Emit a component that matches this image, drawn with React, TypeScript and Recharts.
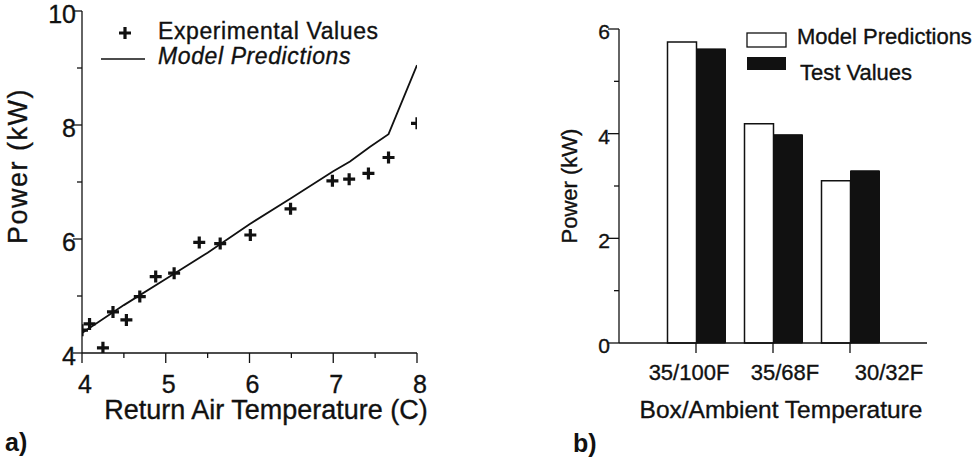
import React from 'react';
import { ComposedChart, Line, Scatter, XAxis, YAxis, BarChart, Bar } from 'recharts';

// panel a) experimental points
const expTemp = [4.0, 4.09, 4.25, 4.37, 4.53, 4.69, 4.88, 5.1, 5.4, 5.65, 6.01, 6.49, 6.99, 7.19, 7.42, 7.66, 8.0];
const expPower = [4.4, 4.51, 4.09, 4.72, 4.58, 4.99, 5.34, 5.4, 5.94, 5.92, 6.07, 6.53, 7.02, 7.05, 7.15, 7.43, 8.03];

// panel a) model line
const modelTemp = [4.0, 4.5, 5.0, 5.5, 6.0, 6.5, 7.0, 7.2, 7.44, 7.66, 8.0];
const modelPower = [4.35, 4.84, 5.3, 5.76, 6.26, 6.72, 7.19, 7.36, 7.62, 7.84, 9.05];

const tempTicks = [4, 4.5, 5, 5.5, 6, 6.5, 7, 7.5, 8];
const powerTicksA = [4, 5, 6, 7, 8, 9, 10];

// panel b)
const conditions = ['35/100F', '35/68F', '30/32F'];
const modelBars = [5.75, 4.19, 3.1];
const testBars = [5.62, 3.98, 3.29];
const powerTicksB = [0, 1, 2, 3, 4, 5, 6];

const expData = expTemp.map((x, i) => ({ x, y: expPower[i] }));
const modelData = modelTemp.map((x, i) => ({ x, y: modelPower[i] }));
const barData = conditions.map((name, i) => ({ name, model: modelBars[i], test: testBars[i] }));

const INK = '#111';
const FONT = '"Liberation Sans", Arial, Helvetica, sans-serif';
// scanned print looks a touch heavier than plain text
const heavy = { stroke: INK, strokeWidth: 0.35 };

const PlusMark = ({ cx, cy }: any) => (
  <path d={`M${cx - 6},${cy}H${cx + 6}M${cx},${cy - 6}V${cy + 6}`} stroke={INK} strokeWidth={3.2} fill="none" />
);

const LeftXTick = ({ x, y, payload }: any) => {
  const major = Number.isInteger(payload.value);
  return (
    <g>
      <line x1={x} y1={y} x2={x} y2={y + (major ? 10 : 5)} stroke={INK} strokeWidth={1.3} />
      {major && (
        <text x={x + 3} y={y + 40} textAnchor="middle" fontSize={25} fontFamily={FONT} fill={INK} {...heavy}>
          {payload.value}
        </text>
      )}
    </g>
  );
};

const LeftYTick = ({ x, y, payload }: any) => {
  const major = payload.value % 2 === 0;
  return (
    <g>
      <line x1={x - (major ? 9 : 5)} y1={y} x2={x} y2={y} stroke={INK} strokeWidth={1.3} />
      {major && (
        <text x={x - 6} y={y + 12} textAnchor="end" fontSize={25} fontFamily={FONT} fill={INK} {...heavy}>
          {payload.value}
        </text>
      )}
    </g>
  );
};

const RightYTick = ({ x, y, payload }: any) => {
  const major = payload.value % 2 === 0;
  return (
    <g>
      <line x1={x - (major ? 11 : 5)} y1={y} x2={x} y2={y} stroke={INK} strokeWidth={1.3} />
      {major && (
        <text x={x - 9} y={y + 10} textAnchor="end" fontSize={21} fontFamily={FONT} fill={INK} {...heavy}>
          {payload.value}
        </text>
      )}
    </g>
  );
};

const labelShift = [-7, 12, 39];

const RightXTick = ({ x, y, payload, index }: any) => (
  <g>
    <line x1={x} y1={y} x2={x} y2={y + 10} stroke={INK} strokeWidth={1.3} />
    <text x={x + (labelShift[index] || 0)} y={y + 37} textAnchor="middle" fontSize={22} fontFamily={FONT} fill={INK} {...heavy}>
      {payload.value}
    </text>
  </g>
);

export default function App() {
  return (
    <div style={{ position: 'absolute', left: 0, top: 0, width: 980, height: 459, background: '#fff', fontFamily: FONT }}>
      <div style={{ position: 'absolute', left: 0, top: 0 }}>
        <ComposedChart width={490} height={459} margin={{ top: 11, right: 73, bottom: 66, left: 22 }}>
          <XAxis
            type="number"
            dataKey="x"
            domain={[4, 8]}
            ticks={tempTicks}
            interval={0}
            height={40}
            tickSize={0}
            tickMargin={0}
            tickLine={false}
            axisLine={{ stroke: INK, strokeWidth: 1.3 }}
            tick={<LeftXTick />}
            allowDataOverflow
          />
          <YAxis
            type="number"
            dataKey="y"
            domain={[4, 10]}
            ticks={powerTicksA}
            interval={0}
            width={60}
            tickSize={0}
            tickMargin={0}
            tickLine={false}
            axisLine={{ stroke: INK, strokeWidth: 1.3 }}
            tick={<LeftYTick />}
            allowDataOverflow
          />
          <Line
            data={modelData}
            dataKey="y"
            type="linear"
            stroke={INK}
            strokeWidth={1.8}
            dot={false}
            isAnimationActive={false}
          />
          <Scatter data={expData} dataKey="y" shape={<PlusMark />} isAnimationActive={false} />
        </ComposedChart>
      </div>

      <div style={{ position: 'absolute', left: 490, top: 0 }}>
        <BarChart
          width={490}
          height={459}
          data={barData}
          margin={{ top: 29, right: 53, bottom: 76, left: 69 }}
          barGap={0}
          barSize={29}
        >
          <XAxis
            dataKey="name"
            height={40}
            padding={{ left: 38.5, right: 38.5 }}
            tickSize={0}
            tickMargin={0}
            tickLine={false}
            axisLine={{ stroke: INK, strokeWidth: 1.3 }}
            tick={<RightXTick />}
            interval={0}
          />
          <YAxis
            type="number"
            domain={[0, 6]}
            ticks={powerTicksB}
            interval={0}
            width={60}
            tickSize={0}
            tickMargin={0}
            tickLine={false}
            axisLine={{ stroke: INK, strokeWidth: 1.3 }}
            tick={<RightYTick />}
          />
          <Bar dataKey="model" fill="#fff" stroke={INK} strokeWidth={1.5} isAnimationActive={false} />
          <Bar dataKey="test" fill={INK} stroke={INK} strokeWidth={1} isAnimationActive={false} />
        </BarChart>
      </div>

      <svg width={980} height={459} style={{ position: 'absolute', left: 0, top: 0, pointerEvents: 'none' }}>
        {/* legend a) */}
        <PlusMark cx={125} cy={33} />
        <text x={158} y={39} fontSize={23} letterSpacing={0.6} fontFamily={FONT} fill={INK} {...heavy}>Experimental Values</text>
        <line x1={101} y1={59} x2={145} y2={59} stroke={INK} strokeWidth={1.5} />
        <text x={158} y={64} fontSize={23} letterSpacing={0.6} fontStyle="italic" fontFamily={FONT} fill={INK} {...heavy}>Model Predictions</text>

        {/* axis titles a) */}
        <text x={266} y={419} fontSize={27} textAnchor="middle" fontFamily={FONT} fill={INK} {...heavy}>Return Air Temperature (C)</text>
        <text transform="translate(27,166) rotate(-90)" fontSize={27} letterSpacing={1.5} textAnchor="middle" fontFamily={FONT} fill={INK} {...heavy}>Power (kW)</text>
        <text x={5} y={451} fontSize={25} fontWeight="bold" fontFamily={FONT} fill={INK}>a)</text>

        {/* legend b) */}
        <rect x={747} y={33} width={39} height={14} fill="#fff" stroke={INK} strokeWidth={1.3} />
        <text x={797} y={44} fontSize={22} fontFamily={FONT} fill={INK} {...heavy}>Model Predictions</text>
        <rect x={747} y={57} width={39} height={13} fill={INK} />
        <text x={800} y={80} fontSize={22} fontFamily={FONT} fill={INK} {...heavy}>Test Values</text>

        {/* axis titles b) */}
        <text x={781} y={418} fontSize={24.5} textAnchor="middle" fontFamily={FONT} fill={INK} {...heavy}>Box/Ambient Temperature</text>
        <text transform="translate(577,186) rotate(-90)" fontSize={22} textAnchor="middle" fontFamily={FONT} fill={INK} {...heavy}>Power (kW)</text>
        <text x={573} y={452} fontSize={25} fontWeight="bold" fontFamily={FONT} fill={INK}>b)</text>
      </svg>
    </div>
  );
}
